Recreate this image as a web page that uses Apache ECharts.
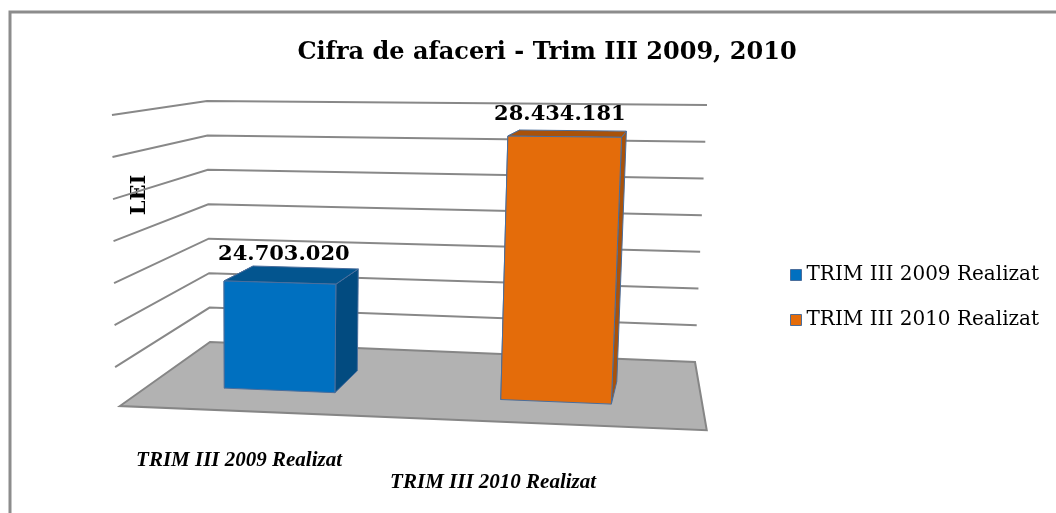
<!DOCTYPE html>
<html>
<head>
<meta charset="utf-8">
<title>Cifra de afaceri</title>
<script src="https://cdn.jsdelivr.net/npm/echarts@6/dist/echarts.min.js"></script>
<style>
  html, body { margin: 0; padding: 0; background: #fff; }
  #chart { width: 1056px; height: 513px; }
</style>
</head>
<body>
<div id="chart"></div>
<script>
// data
var categories = ['TRIM III 2009 Realizat', 'TRIM III 2010 Realizat'];
var values = [24703020, 28434181];
var valueLabels = ['24.703.020', '28.434.181'];
var gridValues = [23000000, 24000000, 25000000, 26000000, 27000000, 28000000, 29000000];
var axisMin = 22000000;
var axisMax = 29000000;

var frontColors = ['#0070C0', '#E46C0A'];
var topColors = ['#03558F', '#A9520A'];
var sideColors = ['#024B80', '#A9520A'];

// fake 3d: back wall is a slightly skewed quad, depth goes towards a vanishing point
function backPoint(cs, x, y) {
  var u = (x - cs.x) / cs.width;
  var t = (y - cs.y) / cs.height;
  var topX = cs.x - 3 + u * (cs.width + 10);
  var topY = cs.y + u * 4;
  var botX = cs.x + u * (cs.width - 5);
  var botY = cs.y + cs.height + u * 20;
  return [topX + (botX - topX) * t, topY + (botY - topY) * t];
}
function depth(cs, p, s, vx) {
  var vX = cs.x + vx, vY = cs.y - 64;
  return [vX + s * (p[0] - vX), vY + s * (p[1] - vY)];
}

var chartDom = document.getElementById('chart');
var myChart = echarts.init(chartDom);
var option;

function barSeries(i) {
  return {
    name: categories[i],
    type: 'custom',
    z: 3,
    itemStyle: { color: frontColors[i], borderColor: '#4A6E9C', borderWidth: 1 },
    data: [[i, values[i]]],
    renderItem: function (params, api) {
      var cs = params.coordSys;
      var idx = api.value(0);
      var top = api.coord([idx, api.value(1)]);
      var base = api.coord([idx, axisMin]);
      var hw = api.size([1, 0])[0] * 0.2;
      var s0 = 1.07, s1 = 1.14;
      function pt(x, y, s) { return depth(cs, backPoint(cs, x, y), s, 490); }
      var ftl = pt(top[0] - hw, top[1], s1), ftr = pt(top[0] + hw, top[1], s1);
      var fbl = pt(top[0] - hw, base[1], s1), fbr = pt(top[0] + hw, base[1], s1);
      var btl = pt(top[0] - hw, top[1], s0), btr = pt(top[0] + hw, top[1], s0);
      var bbl = pt(top[0] - hw, base[1], s0), bbr = pt(top[0] + hw, base[1], s0);
      var edge = { stroke: '#4A6E9C', lineWidth: 1 };
      function face(points, fill) {
        return { type: 'polygon', shape: { points: points }, style: Object.assign({ fill: fill }, edge) };
      }
      var cx = (ftl[0] + ftr[0] + btl[0] + btr[0]) / 4;
      var cy = (ftl[1] + btl[1]) / 2;
      var floorFront = depth(cs, backPoint(cs, top[0], base[1]), 1.21, 429);
      // category labels sit a bit below the floor edge, slightly steeper than it
      var labX = cs.x + (top[0] - cs.x) * 1.037 - 98;
      var labY = floorFront[1] + 53 + (floorFront[1] - 418) * 0.8;
      return {
        type: 'group',
        children: [
          face([btl, ftl, fbl, bbl], sideColors[idx]),
          face([ftr, btr, bbr, fbr], sideColors[idx]),
          face([btl, btr, ftr, ftl], topColors[idx]),
          face([ftl, ftr, fbr, fbl], frontColors[idx]),
          {
            type: 'text',
            x: cx - 9, y: cy - 19,
            style: {
              text: valueLabels[idx], fill: '#000', align: 'center', verticalAlign: 'middle',
              fontFamily: 'DejaVu Serif', fontWeight: 'bold', fontSize: 21
            }
          },
          {
            type: 'text',
            x: labX, y: labY,
            style: {
              text: categories[idx], fill: '#000', align: 'center', verticalAlign: 'middle',
              fontFamily: 'Liberation Serif', fontWeight: 'bold', fontStyle: 'italic', fontSize: 21
            }
          }
        ]
      };
    }
  };
}

option = {
  animation: false,
  title: {
    text: 'Cifra de afaceri - Trim III 2009, 2010',
    left: 542,
    top: 36,
    textAlign: 'center',
    textStyle: { fontFamily: 'DejaVu Serif', fontWeight: 'bold', fontSize: 24, color: '#000' }
  },
  legend: {
    orient: 'vertical',
    left: 790,
    top: 265,
    padding: 0,
    itemWidth: 11,
    itemHeight: 11,
    itemGap: 25,
    icon: 'rect',
    textStyle: { fontFamily: 'DejaVu Serif', fontSize: 20, color: '#000' },
    data: [
      { name: categories[0], itemStyle: { color: frontColors[0], borderColor: '#4A6E9C', borderWidth: 1 } },
      { name: categories[1], itemStyle: { color: frontColors[1], borderColor: '#4A6E9C', borderWidth: 1 } }
    ]
  },
  grid: { left: 210, top: 101, width: 490, height: 241 },
  xAxis: { type: 'category', data: categories, show: false },
  yAxis: { type: 'value', min: axisMin, max: axisMax, interval: 1000000, show: false },
  graphic: [
    {
      type: 'rect', silent: true,
      shape: { x: 10, y: 12, width: 1100, height: 600 },
      style: { fill: null, stroke: '#8C8C8C', lineWidth: 3 }
    },
    {
      type: 'text', x: 140, y: 195, rotation: Math.PI / 2,
      style: {
        text: 'LEI', fill: '#000', align: 'center', verticalAlign: 'middle',
        fontFamily: 'DejaVu Serif', fontWeight: 'bold', fontSize: 21
      }
    }
  ],
  series: [
    {
      // floor
      type: 'custom',
      z: 1,
      silent: true,
      data: [[0, axisMin]],
      renderItem: function (params, api) {
        var cs = params.coordSys;
        var y = api.coord([0, api.value(1)])[1];
        var bl = backPoint(cs, cs.x, y);
        var br = backPoint(cs, cs.x + cs.width, y);
        return {
          type: 'polygon',
          shape: { points: [bl, br, depth(cs, br, 1.21, 429), depth(cs, bl, 1.21, 429)] },
          style: { fill: '#B2B2B2', stroke: '#868686', lineWidth: 2 }
        };
      }
    },
    {
      // walls with gridlines
      type: 'custom',
      z: 2,
      silent: true,
      data: gridValues.map(function (v) { return [0, v]; }),
      renderItem: function (params, api) {
        var cs = params.coordSys;
        var y = api.coord([0, api.value(1)])[1];
        var bl = backPoint(cs, cs.x, y);
        var br = backPoint(cs, cs.x + cs.width, y);
        return {
          type: 'polyline',
          shape: { points: [depth(cs, bl, 1.22, 429), bl, br] },
          style: { fill: null, stroke: '#888888', lineWidth: 2 }
        };
      }
    },
    barSeries(0),
    barSeries(1)
  ]
};

if (option && typeof option === 'object') {
  myChart.setOption(option);
}
</script>
</body>
</html>
